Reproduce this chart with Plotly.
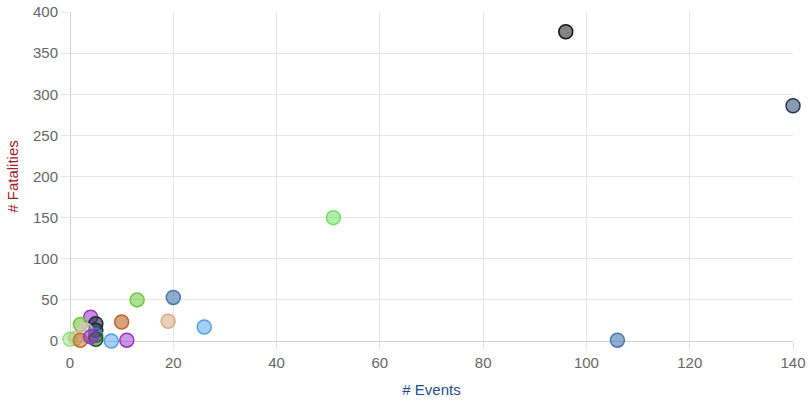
import plotly.graph_objects as go

# Events vs fatalities, one bubble per group
events = [96, 140, 51, 20, 26, 106, 13, 19, 10, 11, 8, 4, 2, 5, 5, 3, 5, 1, 0, 2, 5, 4]
fatalities = [376, 286, 150, 53, 17, 1, 50, 24, 23, 1, 0, 29, 20, 21, 13, 13, 7, 3, 2, 1, 2, 5]

# border colour per point; fill is the same colour, half transparent
borders = [
    'rgb(20,20,20)', 'rgb(40,55,80)', 'rgb(110,225,100)', 'rgb(70,120,175)',
    'rgb(80,160,230)', 'rgb(70,120,175)', 'rgb(110,200,60)', 'rgb(215,170,130)',
    'rgb(190,100,40)', 'rgb(150,50,200)', 'rgb(80,160,230)', 'rgb(150,50,200)',
    'rgb(110,200,60)', 'rgb(30,40,60)', 'rgb(30,40,60)', 'rgb(225,190,200)',
    'rgb(70,120,175)', 'rgb(215,190,150)', 'rgb(140,225,120)', 'rgb(200,110,40)',
    'rgb(20,90,20)', 'rgb(150,50,200)',
]
fills = [
    'rgba(110,110,110,0.85)', 'rgba(110,130,155,0.8)', 'rgba(110,225,100,0.55)', 'rgba(70,120,175,0.6)',
    'rgba(80,160,230,0.5)', 'rgba(70,120,175,0.6)', 'rgba(110,200,60,0.55)', 'rgba(215,170,130,0.55)',
    'rgba(190,100,40,0.6)', 'rgba(150,50,200,0.5)', 'rgba(80,160,230,0.5)', 'rgba(150,50,200,0.55)',
    'rgba(110,200,60,0.6)', 'rgba(30,40,60,0.6)', 'rgba(30,40,60,0.5)', 'rgba(225,190,200,0.5)',
    'rgba(70,120,175,0.5)', 'rgba(215,190,150,0.6)', 'rgba(140,225,120,0.5)', 'rgba(200,110,40,0.5)',
    'rgba(20,90,20,0.5)', 'rgba(150,50,200,0.5)',
]

fig = go.Figure()

for i in range(len(events)):
    fig.add_trace(go.Scatter(
        x=[events[i]], y=[fatalities[i]],
        mode='markers',
        marker=dict(size=14, color=fills[i], line=dict(color=borders[i], width=1.5)),
        showlegend=False,
        cliponaxis=False,
        hovertemplate='# Events: %{x}<br># Fatalities: %{y}<extra></extra>',
    ))

axis_font = dict(family='Arial', size=15, color='#666666')

fig.update_layout(
    width=810, height=405,
    margin=dict(l=70, r=17, t=12, b=64),
    plot_bgcolor='white',
    paper_bgcolor='white',
    font=dict(family='Arial'),
    xaxis=dict(
        range=[0, 140], dtick=20, tickfont=axis_font, automargin=False,
        ticklabeloverflow='allow',
        showgrid=True, gridcolor='#e5e5e5', gridwidth=1,
        zeroline=True, zerolinecolor='#d0d0d0', zerolinewidth=1,
        ticks='outside', ticklen=8, tickcolor='#e5e5e5',
        title=dict(text='# Events', font=dict(family='Arial', size=15, color='#1f4e8c'), standoff=14),
    ),
    yaxis=dict(
        range=[0, 400], dtick=50, tickfont=axis_font, automargin=False,
        ticklabeloverflow='allow',
        showgrid=True, gridcolor='#e5e5e5', gridwidth=1,
        zeroline=True, zerolinecolor='#d0d0d0', zerolinewidth=1,
        ticks='outside', ticklen=8, tickcolor='#e5e5e5',
        title=dict(text='# Fatalities', font=dict(family='Arial', size=15, color='#9b2226'), standoff=10),
    ),
)

# drop the default page margin so the figure fills the window exactly
fig.write_html("out.html",
               config={'displayModeBar': False},
               post_script="document.body.style.margin='0';document.body.style.overflow='hidden';")
